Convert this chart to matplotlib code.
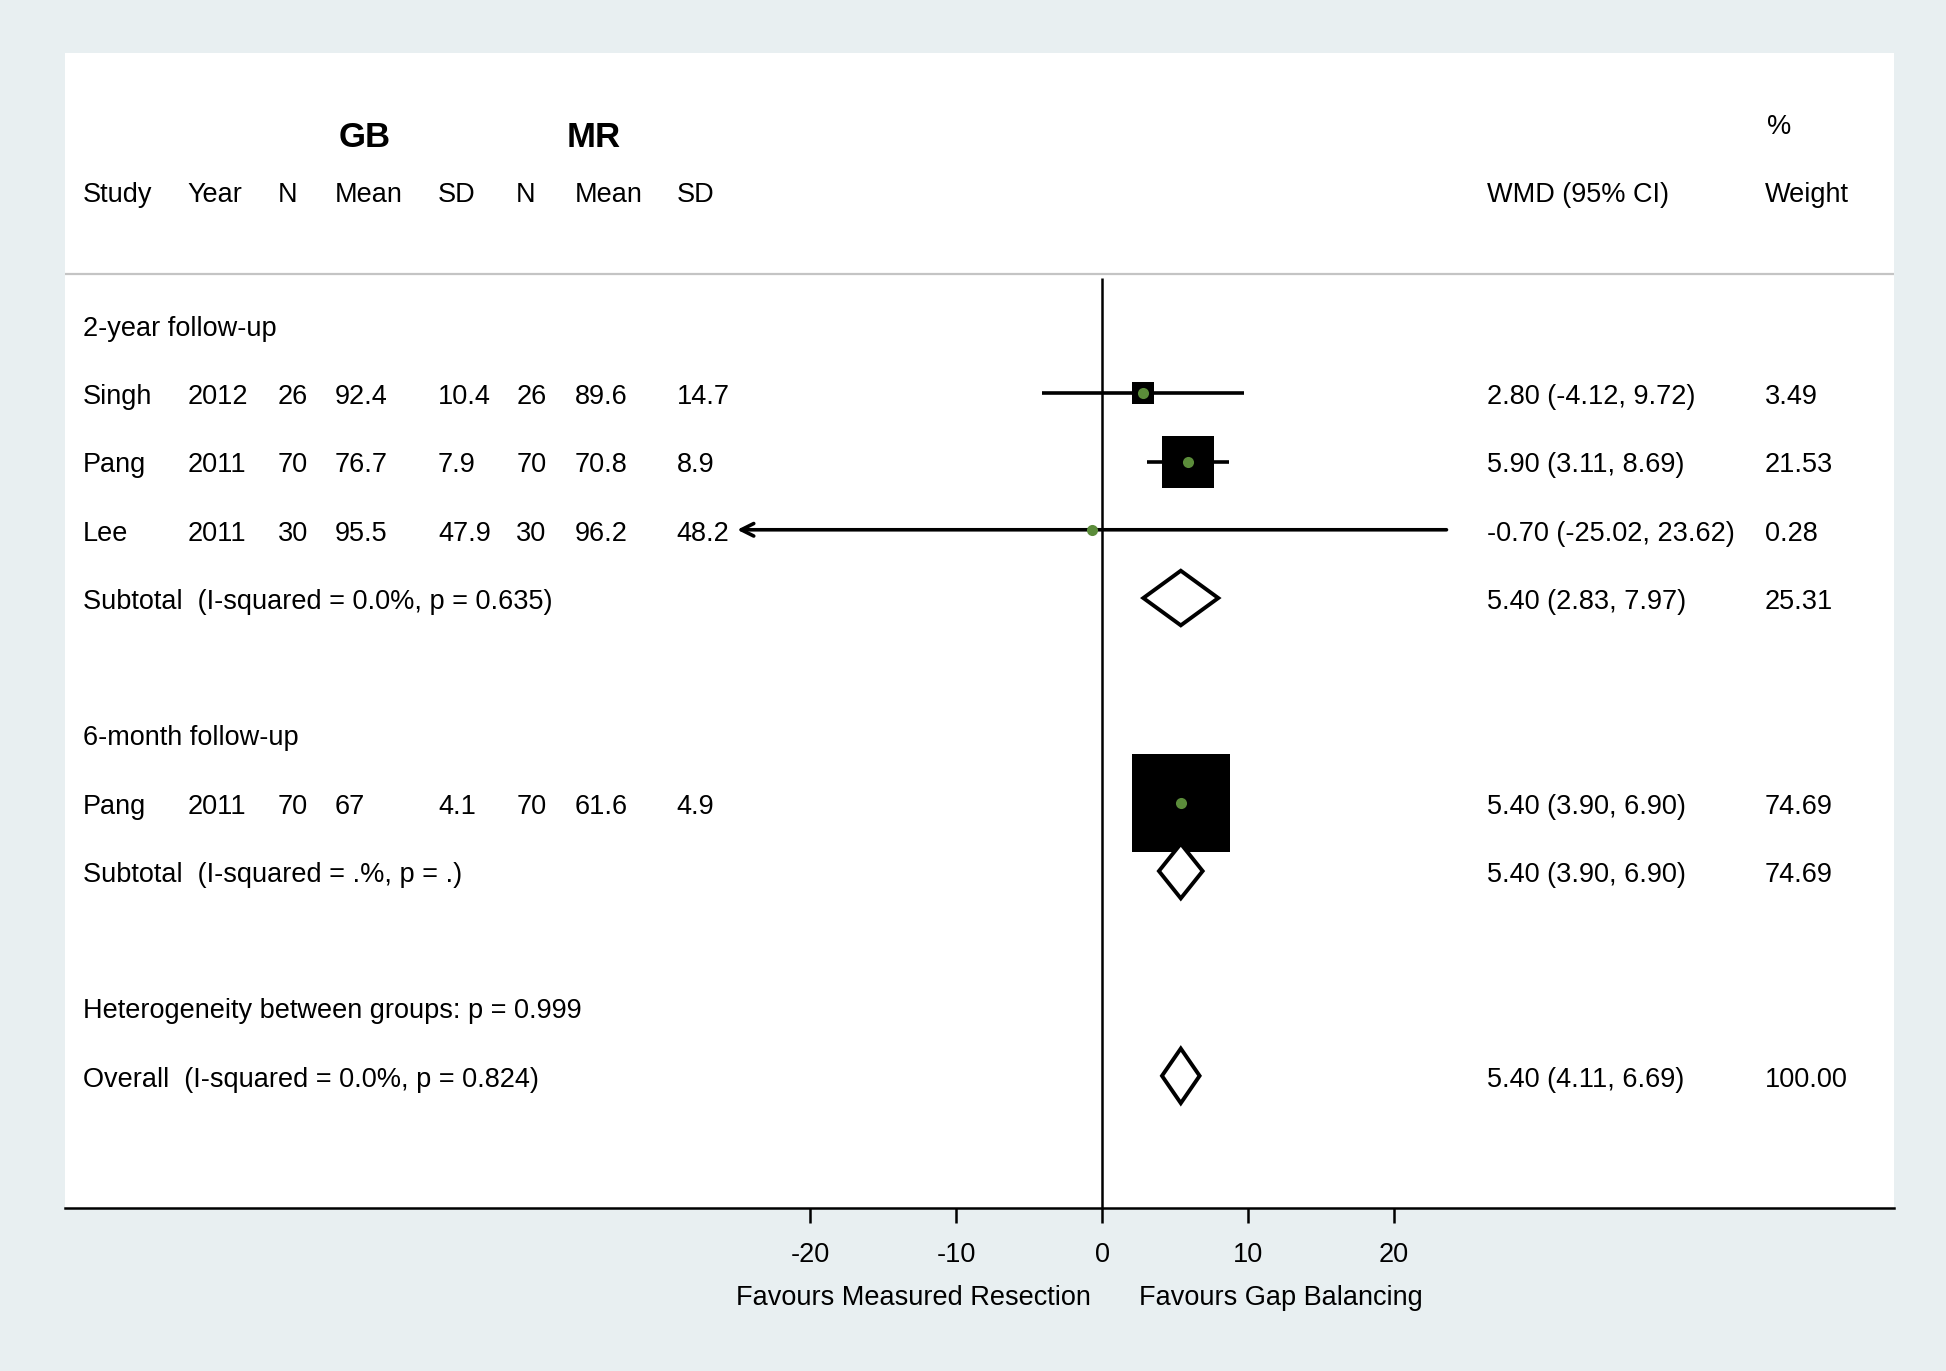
import matplotlib
matplotlib.use("Agg")
import matplotlib.pyplot as plt
from matplotlib.patches import Polygon
from matplotlib.transforms import blended_transform_factory

plt.rcParams['font.family'] = ['Liberation Sans', 'DejaVu Sans']

# studies
study = ['Singh', 'Pang', 'Lee', 'Pang']
year = ['2012', '2011', '2011', '2011']
group = [0, 0, 0, 1]
gb_n = ['26', '70', '30', '70']
gb_mean = ['92.4', '76.7', '95.5', '67']
gb_sd = ['10.4', '7.9', '47.9', '4.1']
mr_n = ['26', '70', '30', '70']
mr_mean = ['89.6', '70.8', '96.2', '61.6']
mr_sd = ['14.7', '8.9', '48.2', '4.9']
wmd = [2.80, 5.90, -0.70, 5.40]
ci_lo = [-4.12, 3.11, -25.02, 3.90]
ci_hi = [9.72, 8.69, 23.62, 6.90]
weight = [3.49, 21.53, 0.28, 74.69]

# subgroups
groups = ['2-year follow-up', '6-month follow-up']
sub_label = ['Subtotal  (I-squared = 0.0%, p = 0.635)',
             'Subtotal  (I-squared = .%, p = .)']
sub_wmd = [5.40, 5.40]
sub_lo = [2.83, 3.90]
sub_hi = [7.97, 6.90]
sub_weight = [25.31, 74.69]

het_label = 'Heterogeneity between groups: p = 0.999'
overall_label = 'Overall  (I-squared = 0.0%, p = 0.824)'
overall_wmd = 5.40
overall_lo = 4.11
overall_hi = 6.69
overall_weight = 100.00

xticks = [-20, -10, 0, 10, 20]
left_label = 'Favours Measured Resection'
right_label = 'Favours Gap Balancing'

bg = '#e8eff1'
green = '#5b8c3a'
fs = 19.5
dy = 0.055  # text sits a touch low in the stata output

# row layout
row = 4
group_rows, sub_rows = [], []
study_rows = [0] * len(study)
for g in range(len(groups)):
    group_rows.append(row)
    row += 1
    for i in range(len(study)):
        if group[i] == g:
            study_rows[i] = row
            row += 1
    sub_rows.append(row)
    row += 2
het_row = row
overall_row = row + 1

fig = plt.figure(figsize=(19.46, 13.71), dpi=100, facecolor=bg)
ax = fig.add_axes([0.03316, 0.1192, 0.94005, 0.8419])
ax.set_facecolor('white')
ax.set_xlim(-71.15, 54.30)
ax.set_ylim(16.93, 0.02)
for s in ['top', 'left', 'right']:
    ax.spines[s].set_visible(False)
ax.spines['bottom'].set_linewidth(1.8)
ax.set_yticks([])
ax.set_xticks(xticks)
ax.set_xticklabels([str(t) for t in xticks])
ax.tick_params(axis='x', length=11, width=1.8, pad=14, labelsize=fs)

tr = blended_transform_factory(ax.transAxes, ax.transData)

def put(xf, y, s, **kw):
    ax.text(xf, y + dy, s, transform=tr, fontsize=kw.pop('fontsize', fs),
            va='center', ha=kw.pop('ha', 'left'), **kw)

# header
cols = [0.0102, 0.0672, 0.1167, 0.1479, 0.2042, 0.2469, 0.2788, 0.3345]
heads = ['Study', 'Year', 'N', 'Mean', 'SD', 'N', 'Mean', 'SD']
for xf, h in zip(cols, heads):
    put(xf, 2.04, h)
put(0.1642, 1.2, 'GB', fontsize=25, fontweight='bold', ha='center')
put(0.2890, 1.2, 'MR', fontsize=25, fontweight='bold', ha='center')
put(0.7775, 2.04, 'WMD (95% CI)')
put(0.9294, 2.04, 'Weight')
put(0.9308, 1.04, '%')

ax.axhline(3.25, color='#c4c4c4', lw=1.6)
ax.vlines(0, 3.31, 16.93, color='black', lw=1.8)

# studies
for i in range(len(study)):
    y = study_rows[i]
    vals = [study[i], year[i], gb_n[i], gb_mean[i], gb_sd[i],
            mr_n[i], mr_mean[i], mr_sd[i]]
    for xf, v in zip(cols, vals):
        put(xf, y, v)
    put(0.7775, y, f'{wmd[i]:.2f} ({ci_lo[i]:.2f}, {ci_hi[i]:.2f})')
    put(0.9294, y, f'{weight[i]:.2f}')
    if ci_lo[i] < -25:
        ax.annotate('', xy=(ci_lo[i], y), xytext=(ci_hi[i], y),
                    arrowprops=dict(arrowstyle='->,head_length=0.9,head_width=0.45',
                                    lw=2.6, color='black', shrinkA=0, shrinkB=0))
    else:
        ax.plot([ci_lo[i], ci_hi[i]], [y, y], color='black', lw=2.6,
                solid_capstyle='butt', zorder=2)
    ax.plot(wmd[i], y, marker='s', color='black', mew=0,
            markersize=8.2 * weight[i] ** 0.5, zorder=3)
    ax.plot(wmd[i], y, marker='o', color=green, mew=0, markersize=8, zorder=4)

def diamond(est, lo, hi, y):
    h = 0.4
    ax.add_patch(Polygon([[lo, y], [est, y - h], [hi, y], [est, y + h]],
                         closed=True, facecolor='white', edgecolor='black',
                         lw=2.8, joinstyle='miter', zorder=5))

# subgroups
for g in range(len(groups)):
    put(0.0102, group_rows[g], groups[g])
    y = sub_rows[g]
    put(0.0102, y, sub_label[g])
    put(0.7775, y, f'{sub_wmd[g]:.2f} ({sub_lo[g]:.2f}, {sub_hi[g]:.2f})')
    put(0.9294, y, f'{sub_weight[g]:.2f}')
    diamond(sub_wmd[g], sub_lo[g], sub_hi[g], y)

put(0.0102, het_row, het_label)
put(0.0102, overall_row, overall_label)
put(0.7775, overall_row, f'{overall_wmd:.2f} ({overall_lo:.2f}, {overall_hi:.2f})')
put(0.9294, overall_row, f'{overall_weight:.2f}')
diamond(overall_wmd, overall_lo, overall_hi, overall_row)

ax.text(-0.76, 18.25, left_label, fontsize=fs, ha='right', va='center', clip_on=False)
ax.text(2.55, 18.25, right_label, fontsize=fs, ha='left', va='center', clip_on=False)

fig.savefig('out.png', dpi=100, facecolor=bg)
